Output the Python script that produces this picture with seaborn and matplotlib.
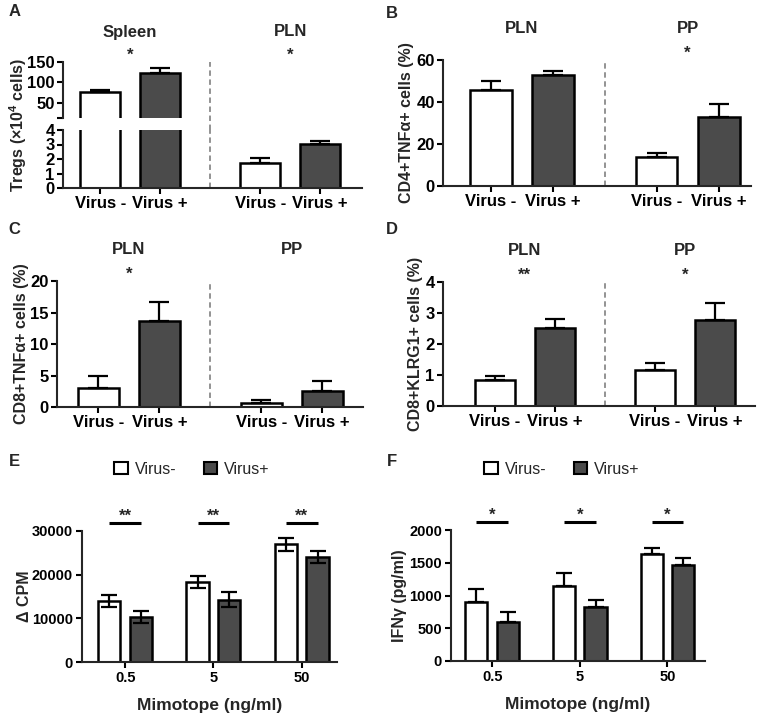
import numpy as np
import pandas as pd
import matplotlib
matplotlib.use("Agg")
import matplotlib.pyplot as plt
import seaborn as sns
from matplotlib.patches import Patch

# ---------------- data ----------------
status = ["Virus -", "Virus +"]

tregs_tissues = ["Spleen", "PLN"]
tregs_mean = [76, 122, 1.70, 3.05]
tregs_sem = [6, 14, 0.38, 0.17]
tregs_stars = ["*", "*"]

cd4_tissues = ["PLN", "PP"]
cd4_tnf_mean = [45.7, 53.0, 13.7, 33.0]
cd4_tnf_sem = [4.3, 1.8, 2.2, 6.0]
cd4_tnf_stars = ["", "*"]

cd8_tissues = ["PLN", "PP"]
cd8_tnf_mean = [3.0, 13.7, 0.6, 2.6]
cd8_tnf_sem = [1.85, 2.9, 0.45, 1.6]
cd8_tnf_stars = ["*", ""]

klrg_tissues = ["PLN", "PP"]
cd8_klrg_mean = [0.85, 2.52, 1.15, 2.77]
cd8_klrg_sem = [0.11, 0.29, 0.23, 0.55]
cd8_klrg_stars = ["**", "*"]

doses = ["0.5", "5", "50"]
legend_labels = ["Virus-", "Virus+"]
cpm_neg = [14000, 18300, 27000]
cpm_neg_sem = [1300, 1300, 1500]
cpm_pos = [10300, 14300, 24000]
cpm_pos_sem = [1400, 1800, 1400]
cpm_stars = ["**", "**", "**"]
ifn_neg = [905, 1150, 1640]
ifn_neg_sem = [190, 190, 85]
ifn_pos = [590, 820, 1470]
ifn_pos_sem = [160, 110, 95]
ifn_stars = ["*", "*", "*"]

# ---------------- style ----------------
sns.set_theme(style="ticks")
plt.rcParams["font.family"] = ["Liberation Sans", "DejaVu Sans"]
plt.rcParams["font.weight"] = "bold"
plt.rcParams["axes.labelweight"] = "bold"
plt.rcParams["mathtext.fontset"] = "custom"
plt.rcParams["mathtext.rm"] = "Liberation Sans:bold"
plt.rcParams["mathtext.bf"] = "Liberation Sans:bold"
plt.rcParams["axes.linewidth"] = 1.5

WHITE = "#ffffff"
DARK = "#4b4b4b"
W, H = 767, 716
fig = plt.figure(figsize=(W / 100, H / 100), dpi=100)
fig.patch.set_facecolor("white")


def px_axes(l, t, r, b):
    return fig.add_axes([l / W, 1 - b / H, (r - l) / W, (b - t) / H])


GAP = 2.67
BAR_W = 0.67
TICK_FS = 12
LW = 1.8


def grouped_df(tissues, means):
    rows = []
    for gi, t in enumerate(tissues):
        for si, s in enumerate(status):
            rows.append(dict(tissue=t, status=s, pos=gi * GAP + si,
                             value=means[gi * 2 + si]))
    return pd.DataFrame(rows)


def style_axes(ax, bottom=True):
    sns.despine(ax=ax)
    ax.tick_params(axis="both", direction="out", length=4, width=1.5,
                   labelsize=TICK_FS, pad=2, colors="black")
    for lab in ax.get_yticklabels() + ax.get_xticklabels():
        lab.set_fontweight("bold")
    if not bottom:
        ax.spines["bottom"].set_visible(False)
        ax.tick_params(axis="x", length=0, labelbottom=False)


def draw_bars(ax, df, sem):
    sns.barplot(data=df, x="pos", y="value", hue="status", hue_order=status,
                palette={status[0]: WHITE, status[1]: DARK},
                native_scale=True, dodge=False, width=BAR_W,
                edgecolor="black", linewidth=LW, errorbar=None,
                legend=False, ax=ax, zorder=2)
    ax.errorbar(df["pos"], df["value"],
                yerr=[np.zeros(len(sem)), np.asarray(sem)],
                fmt="none", ecolor="black", elinewidth=1.6, capsize=7,
                capthick=1.6, zorder=3)


def status_ticks(ax, df):
    ax.set_xticks(df["pos"])
    ax.set_xticklabels(list(df["status"]), fontsize=TICK_FS, fontweight="bold")


def group_titles(ax, tissues, stars, title_off=23, star_off=1.5):
    for gi, t in enumerate(tissues):
        xc = gi * GAP + 0.5
        ax.annotate(t, xy=(xc, 1), xycoords=("data", "axes fraction"),
                    xytext=(0, title_off), textcoords="offset points",
                    ha="center", va="center", fontsize=12, fontweight="bold",
                    annotation_clip=False)
        if stars[gi]:
            ax.annotate(stars[gi], xy=(xc, 1), xycoords=("data", "axes fraction"),
                        xytext=(0, star_off), textcoords="offset points",
                        ha="center", va="baseline", fontsize=12,
                        fontweight="bold", annotation_clip=False)


def divider(ax, ymin=0, ymax=1):
    ax.axvline(GAP / 2 + 0.5, ymin=ymin, ymax=ymax, color="#8a8a8a", lw=1.3,
               ls=(0, (3, 2)), clip_on=False, zorder=1)


# ---------------- Panel A (broken axis) ----------------
dfA = grouped_df(tregs_tissues, tregs_mean)
axA_top = px_axes(63, 62, 362, 118)
axA_bot = px_axes(63, 130, 362, 188)
for ax in (axA_top, axA_bot):
    draw_bars(ax, dfA, tregs_sem)
    ax.set_xlim(-0.62, 4.37)
    ax.set_xlabel("")
    ax.set_ylabel("")
axA_top.set_ylim(13, 150)
axA_top.set_yticks([13, 50, 100, 150])
axA_top.set_yticklabels(["", "50", "100", "150"])
axA_bot.set_ylim(0, 4)
axA_bot.set_yticks([0, 1, 2, 3, 4])
status_ticks(axA_bot, dfA)
group_titles(axA_top, tregs_tissues, tregs_stars, title_off=21.6, star_off=1.5)
divider(axA_top, ymin=-0.22, ymax=1)
divider(axA_bot)
style_axes(axA_top, bottom=False)
style_axes(axA_bot)
fig.text(18 / W, 1 - 125 / H, r"Tregs (×10$^{4}$ cells)", rotation=90,
         ha="center", va="center", fontsize=11.5, fontweight="bold")

# ---------------- Panel B ----------------
dfB = grouped_df(cd4_tissues, cd4_tnf_mean)
axB = px_axes(443, 60, 751, 186)
draw_bars(axB, dfB, cd4_tnf_sem)
axB.set_xlim(-0.77, 4.19)
axB.set_ylim(0, 60)
axB.set_yticks([0, 20, 40, 60])
axB.set_xlabel("")
axB.set_ylabel("CD4+TNFα+ cells (%)", fontsize=11.5, fontweight="bold", labelpad=1.5)
status_ticks(axB, dfB)
group_titles(axB, cd4_tissues, cd4_tnf_stars)
divider(axB)
style_axes(axB)

# ---------------- Panel C ----------------
dfC = grouped_df(cd8_tissues, cd8_tnf_mean)
axC = px_axes(57, 281, 363, 407)
draw_bars(axC, dfC, cd8_tnf_sem)
axC.set_xlim(-0.68, 4.34)
axC.set_ylim(0, 20)
axC.set_yticks([0, 5, 10, 15, 20])
axC.set_xlabel("")
axC.set_ylabel("CD8+TNFα+ cells (%)", fontsize=11.5, fontweight="bold", labelpad=1)
status_ticks(axC, dfC)
group_titles(axC, cd8_tissues, cd8_tnf_stars)
divider(axC)
style_axes(axC)

# ---------------- Panel D ----------------
dfD = grouped_df(klrg_tissues, cd8_klrg_mean)
axD = px_axes(443, 282, 755, 406)
draw_bars(axD, dfD, cd8_klrg_sem)
axD.set_xlim(-0.86, 4.34)
axD.set_ylim(0, 4)
axD.set_yticks([0, 1, 2, 3, 4])
axD.set_xlabel("")
axD.set_ylabel("CD8+KLRG1+ cells (%)", fontsize=11.5, fontweight="bold", labelpad=1.5)
status_ticks(axD, dfD)
group_titles(axD, klrg_tissues, cd8_klrg_stars)
divider(axD)
style_axes(axD)


# ---------------- Panels E & F ----------------
def dose_panel(ax, neg, neg_sem, pos, pos_sem, stars, ylim, yticks, ylabel,
               two_sided, sig_y, xlim, ylabelpad):
    df = pd.DataFrame({"dose": doses * 2,
                       "status": [legend_labels[0]] * 3 + [legend_labels[1]] * 3,
                       "value": list(neg) + list(pos)})
    sns.barplot(data=df, x="dose", y="value", hue="status", order=doses,
                hue_order=legend_labels,
                palette={legend_labels[0]: WHITE, legend_labels[1]: DARK},
                width=0.72, gap=0.3, edgecolor="black", linewidth=LW,
                errorbar=None, legend=False, ax=ax, zorder=2)
    sems = [neg_sem, pos_sem]
    centers = {}
    for p in ax.patches:
        cx = p.get_x() + p.get_width() / 2
        i = int(round(cx))
        h = 0 if cx < i else 1
        centers[(i, h)] = cx
        err = sems[h][i]
        yerr = [[err], [err]] if two_sided else [[0], [err]]
        ax.errorbar([cx], [p.get_height()], yerr=yerr, fmt="none",
                    ecolor="black", elinewidth=1.6, capsize=5.5, capthick=1.6,
                    zorder=3)
    for i in range(len(doses)):
        x0, x1 = centers[(i, 0)], centers[(i, 1)]
        ax.plot([x0, x1], [sig_y, sig_y], color="black", lw=2.2,
                clip_on=False, solid_capstyle="butt")
        ax.annotate(stars[i], xy=((x0 + x1) / 2, sig_y), xytext=(0, 1.5),
                    textcoords="offset points", ha="center", va="baseline",
                    fontsize=12, fontweight="bold", annotation_clip=False)
    ax.set_xlim(*xlim)
    ax.set_ylim(*ylim)
    ax.set_yticks(yticks)
    ax.set_xlabel("Mimotope (ng/ml)", fontsize=12.5, fontweight="bold", labelpad=9)
    ax.set_ylabel(ylabel, fontsize=11.5, fontweight="bold", labelpad=ylabelpad)
    sns.despine(ax=ax)
    ax.tick_params(axis="both", direction="out", length=4, width=1.5,
                   labelsize=10.5, pad=2.5, colors="black")
    for lab in ax.get_yticklabels() + ax.get_xticklabels():
        lab.set_fontweight("bold")


axE = px_axes(82, 531, 337, 662)
dose_panel(axE, cpm_neg, cpm_neg_sem, cpm_pos, cpm_pos_sem, cpm_stars,
           (0, 30000), [0, 10000, 20000, 30000], "Δ CPM", True, 31800,
           (-0.49, 2.40), 0)
axF = px_axes(451, 530, 705, 661)
dose_panel(axF, ifn_neg, ifn_neg_sem, ifn_pos, ifn_pos_sem, ifn_stars,
           (0, 2000), [0, 500, 1000, 1500, 2000], "IFNγ (pg/ml)", False, 2122,
           (-0.47, 2.43), 1.5)

handles = [Patch(facecolor=WHITE, edgecolor="black", linewidth=1.5),
           Patch(facecolor=DARK, edgecolor="black", linewidth=1.5)]
for cx in (192, 562):
    fig.legend(handles, legend_labels, loc="center",
               bbox_to_anchor=(cx / W, 1 - 469 / H), ncol=2, frameon=False,
               prop={"weight": "normal", "size": 11.5}, handlelength=0.85,
               handleheight=0.85, handletextpad=0.45, columnspacing=1.7)

# ---------------- panel letters ----------------
for letter, (x, y) in {"A": (15, 12), "B": (392, 13), "C": (14, 230),
                       "D": (392, 230), "E": (14, 461), "F": (392, 461)}.items():
    fig.text(x / W, 1 - y / H, letter, ha="center", va="center",
             fontsize=12, fontweight="bold")

fig.savefig("out.png", dpi=100, facecolor="white")
